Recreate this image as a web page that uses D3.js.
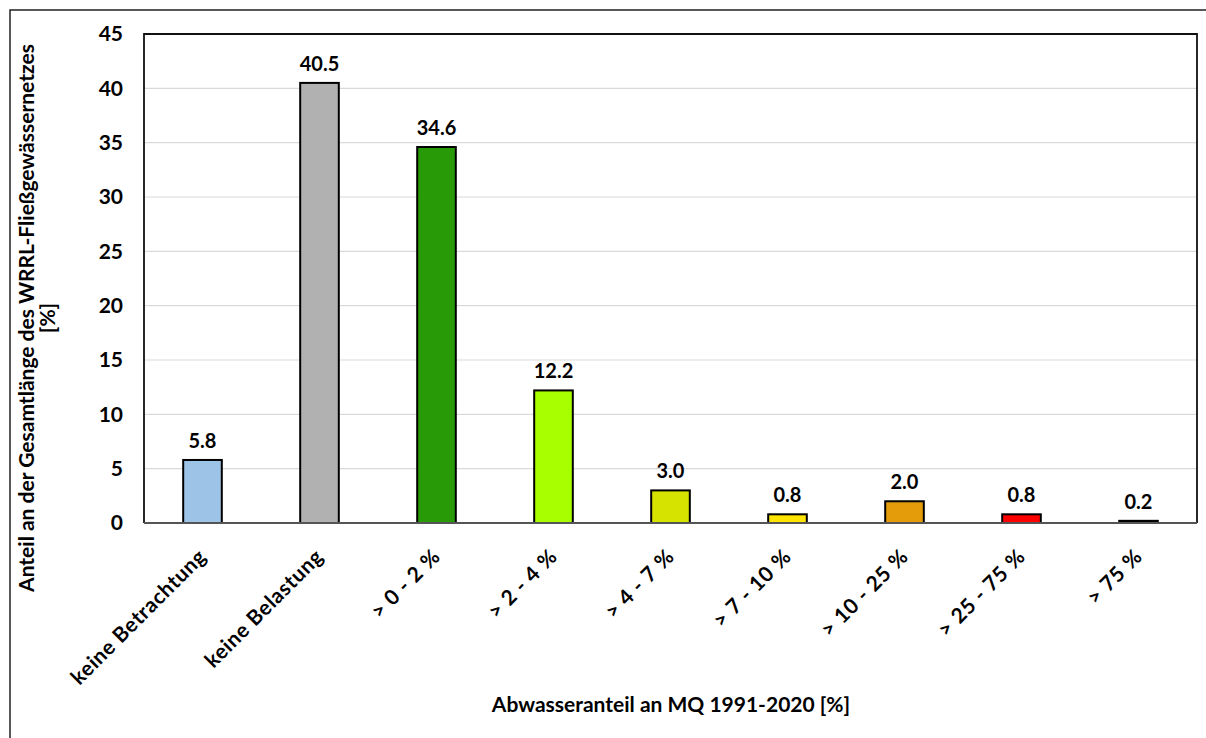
<!DOCTYPE html>
<html>
<head>
<meta charset="utf-8">
<script src="https://cdn.jsdelivr.net/npm/d3@7"></script>
<style>
  html, body { margin: 0; padding: 0; background: #fff; }
  svg { display: block; }
  text { font-family: "Lato", "Open Sans", sans-serif; fill: #000; }
</style>
</head>
<body>
<svg id="chart" width="1206" height="738"></svg>
<script>
// Abwasseranteil classes and share of the total river network length [%]
const categories = ["keine Betrachtung", "keine Belastung", "> 0 - 2 %", "> 2 - 4 %", "> 4 - 7 %",
                    "> 7 - 10 %", "> 10 - 25 %", "> 25 - 75 %", "> 75 %"];
const values = [5.8, 40.5, 34.6, 12.2, 3.0, 0.8, 2.0, 0.8, 0.2];
const barColors = ["#9dc3e6", "#b1b1b1", "#289a08", "#a8ff00", "#d6e200", "#ffe400", "#e49c0a", "#ff0000", "#000000"];
const yTicks = [0, 5, 10, 15, 20, 25, 30, 35, 40, 45];
const yTitleLines = ["Anteil an der Gesamtlänge des WRRL-Fließgewässernetzes", "[%]"];
const xTitle = "Abwasseranteil an MQ 1991-2020 [%]";

const svg = d3.select("#chart");
const W = 1206, H = 738;
const plot = { left: 144, top: 34, right: 1197, bottom: 523 };

// outer frame (open on the right and bottom)
svg.append("path")
  .attr("d", `M10,${H} L10,10 L${W},10`)
  .attr("fill", "none").attr("stroke", "#222").attr("stroke-width", 1.5);

const x = d3.scaleBand().domain(categories).range([plot.left, plot.right]).paddingInner(0.67).paddingOuter(0.335);
const y = d3.scaleLinear().domain([0, 45]).range([plot.bottom, plot.top]);

// gridlines
svg.append("g")
  .selectAll("line").data(yTicks.filter(t => t > 0 && t < 45)).join("line")
  .attr("x1", plot.left).attr("x2", plot.right)
  .attr("y1", d => y(d)).attr("y2", d => y(d))
  .attr("stroke", "#d9d9d9").attr("stroke-width", 1.2);

// y-axis tick labels
const yAxis = d3.axisLeft(y).tickValues(yTicks).tickSize(0).tickPadding(21);
const yg = svg.append("g").attr("transform", `translate(${plot.left},0)`).call(yAxis);
yg.select(".domain").remove();
yg.selectAll("text").attr("font-size", 21).attr("font-weight", 700)
  .style("font-family", "Lato, sans-serif");

// bars
svg.append("g")
  .selectAll("rect").data(values).join("rect")
  .attr("x", (d, i) => x(categories[i]))
  .attr("y", d => y(d))
  .attr("width", x.bandwidth())
  .attr("height", d => y(0) - y(d))
  .attr("fill", (d, i) => barColors[i])
  .attr("stroke", "#000").attr("stroke-width", 2);

// value labels
svg.append("g")
  .selectAll("text").data(values).join("text")
  .attr("x", (d, i) => x(categories[i]) + x.bandwidth() / 2)
  .attr("y", d => y(d) - 12)
  .attr("text-anchor", "middle")
  .attr("font-size", 20).attr("font-weight", 700)
  .text(d => d.toFixed(1));

// plot frame: top and right dark, bottom axis grey
svg.append("path")
  .attr("d", `M${plot.left},${plot.bottom} L${plot.left},${plot.top} L${plot.right},${plot.top} L${plot.right},${plot.bottom}`)
  .attr("fill", "none").attr("stroke", "#111").attr("stroke-width", 1.8);
svg.append("line")
  .attr("x1", plot.left).attr("x2", plot.right)
  .attr("y1", plot.bottom).attr("y2", plot.bottom)
  .attr("stroke", "#555").attr("stroke-width", 1.8);

// x-axis category labels, rotated
const xAxis = d3.axisBottom(x).tickSize(0).tickPadding(0);
const xg = svg.append("g").attr("transform", `translate(0,${plot.bottom})`).call(xAxis);
xg.select(".domain").remove();
xg.selectAll("text")
  .attr("font-size", 21).attr("font-weight", 700)
  .attr("text-anchor", "end")
  .attr("dy", 0)
  .attr("letter-spacing", 0.6)
  .attr("transform", "translate(5,35) rotate(-45)")
  .style("font-family", "Lato, sans-serif");

// axis titles
const yt = svg.append("text")
  .attr("transform", `translate(37,318) rotate(-90)`)
  .attr("text-anchor", "middle")
  .attr("font-size", 21).attr("font-weight", 700);
yt.selectAll("tspan").data(yTitleLines).join("tspan")
  .attr("x", 0).attr("dy", (d, i) => i === 0 ? "-0.15em" : "1.0em")
  .text(d => d);

svg.append("text")
  .attr("x", 671).attr("y", 712)
  .attr("text-anchor", "middle")
  .attr("font-size", 21).attr("font-weight", 700)
  .text(xTitle);
</script>
</body>
</html>
